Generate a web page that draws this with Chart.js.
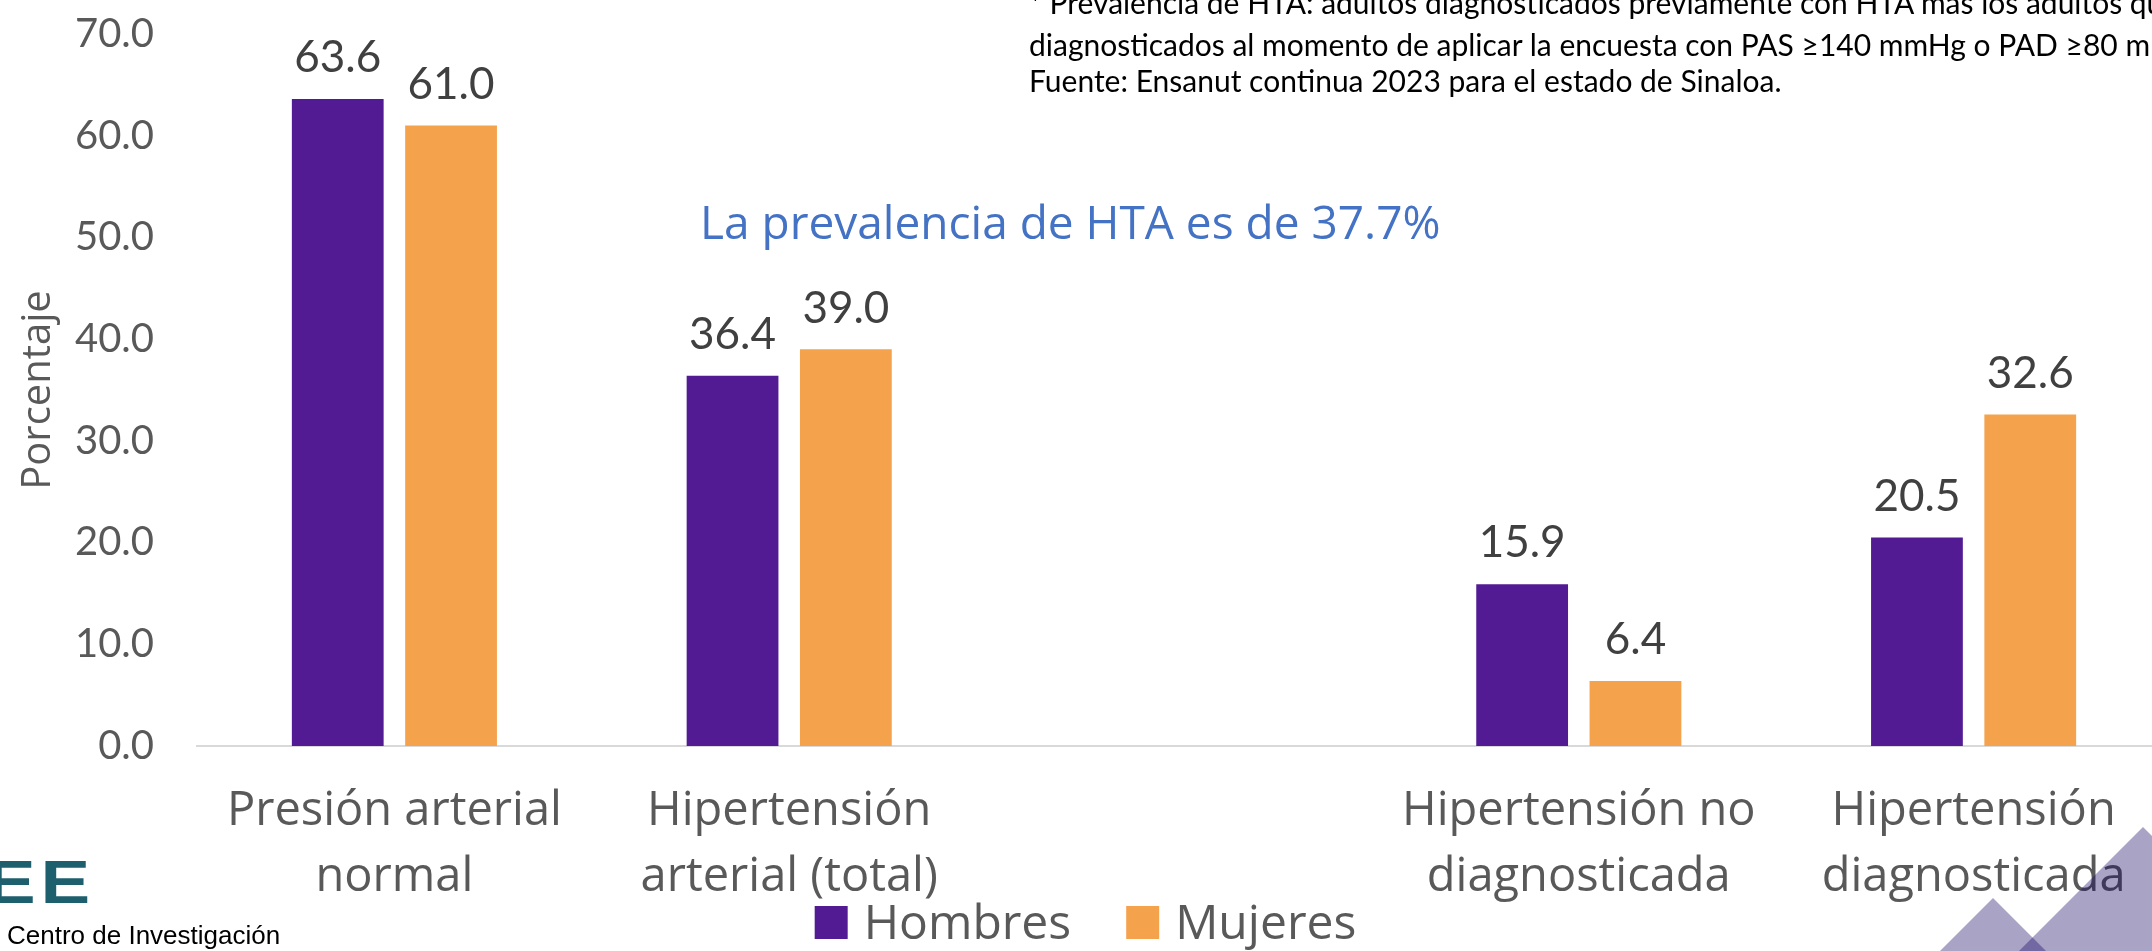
<!DOCTYPE html>
<html>
<head>
<meta charset="utf-8">
<script src="https://cdn.jsdelivr.net/npm/chart.js@4.4.1/dist/chart.umd.min.js"></script>
<style>
    html, body { margin: 0; padding: 0; background: #fff; }
    #wrap { position: relative; width: 2152px; height: 951px; overflow: hidden; background: #fff; }
    #chart { position: absolute; left: 0; top: 0; }
    .note { position: absolute; left: 1029px; font-family: Lato, sans-serif; font-size: 30px; line-height: 36px; color: #000; white-space: nowrap; }
    .prev { position: absolute; left: 700px; top: 190px; font-family: "Open Sans", sans-serif; font-size: 46px; color: #4472C4; white-space: nowrap; }
    .logo { position: absolute; left: -14px; top: 846px; font-family: "Liberation Sans", Arial, sans-serif; font-weight: bold; font-size: 62px; color: #1E5F6E; letter-spacing: 4px; transform: scaleX(1.2); transform-origin: left top; }
    .centro { position: absolute; left: 7px; top: 920px; font-family: "Liberation Sans", Arial, sans-serif; font-size: 26px; color: #000; white-space: nowrap; }
    svg { position: absolute; left: 0; top: 0; pointer-events: none; }
</style>
</head>
<body>
<div id="wrap">
    <canvas id="chart" width="2171" height="951"></canvas>
    <div class="note" style="top: -16px;">* Prevalencia de HTA: adultos diagnosticados previamente con HTA más los adultos que</div>
    <div class="note" style="top: 26px;">diagnosticados al momento de aplicar la encuesta con PAS ≥140 mmHg o PAD ≥80 mmHg</div>
    <div class="note" style="top: 62px;">Fuente: Ensanut continua 2023 para el estado de Sinaloa.</div>
    <div class="prev">La prevalencia de HTA es de 37.7%</div>
    <div class="logo">EE</div>
    <div class="centro">Centro de Investigación</div>
    <svg width="2152" height="951">
        <polygon points="2143,827 2019,951 2267,951" fill="rgba(16,0,97,0.36)"/>
        <polygon points="1993,898 1940,951 2046,951" fill="rgba(16,0,97,0.36)"/>
    </svg>
</div>
<script>
const categories = [
    ["Presión arterial", "normal"],
    ["Hipertensión", "arterial (total)"],
    "",
    ["Hipertensión no", "diagnosticada"],
    ["Hipertensión", "diagnosticada"]
];
const hombres = [63.6, 36.4, null, 15.9, 20.5];
const mujeres = [61.0, 39.0, null, 6.4, 32.6];
const yMin = 0;
const yMax = 70;
const yStep = 10;

// value labels above each bar
const barLabels = {
    id: "barLabels",
    afterDatasetsDraw(chart) {
        const ctx = chart.ctx;
        ctx.save();
        ctx.font = "44px Lato";
        ctx.fillStyle = "#404040";
        ctx.textAlign = "center";
        ctx.textBaseline = "middle";
        chart.data.datasets.forEach((ds, i) => {
            chart.getDatasetMeta(i).data.forEach((bar, j) => {
                const v = ds.data[j];
                if (v === null) return;
                ctx.fillText(v.toFixed(1), bar.x, bar.y - 41);
            });
        });
        ctx.restore();
    }
};

// legend drawn under the axis labels, like the slide
const bottomLegend = {
    id: "bottomLegend",
    afterDraw(chart) {
        const ctx = chart.ctx;
        const box = 33, gap = 16, spacing = 55, baseline = 939;
        ctx.save();
        ctx.font = "48px 'Open Sans'";
        ctx.textBaseline = "alphabetic";
        ctx.textAlign = "left";
        const items = chart.data.datasets.map(ds => ({
            text: ds.label,
            color: ds.backgroundColor,
            w: ctx.measureText(ds.label).width
        }));
        let total = 0;
        items.forEach((it, i) => { total += box + gap + it.w + (i ? spacing : 0); });
        let x = chart.width / 2 - total / 2;
        items.forEach(it => {
            ctx.fillStyle = it.color;
            ctx.fillRect(x, baseline - box, box, box);
            ctx.fillStyle = "#595959";
            ctx.fillText(it.text, x + box + gap, baseline);
            x += box + gap + it.w + spacing;
        });
        ctx.restore();
    }
};

const ctx = document.getElementById("chart").getContext("2d");

const chart = new Chart(ctx, {
    type: "bar",
    data: {
        labels: categories,
        datasets: [{
            label: "Hombres",
            data: hombres,
            backgroundColor: "#531B93",
            categoryPercentage: 0.574,
            barPercentage: 0.81
        }, {
            label: "Mujeres",
            data: mujeres,
            backgroundColor: "#F5A24D",
            categoryPercentage: 0.574,
            barPercentage: 0.81
        }]
    },
    options: {
        responsive: false,
        animation: false,
        layout: {
            padding: { top: 34, bottom: 0, left: 0, right: 0 }
        },
        plugins: {
            legend: { display: false },
            tooltip: { enabled: false }
        },
        scales: {
            x: {
                grid: { display: false, drawTicks: false },
                border: { display: true, color: "#D9D9D9", width: 2 },
                ticks: {
                    font: { family: "Open Sans", size: 47, lineHeight: 1.4 },
                    color: "#595959",
                    padding: 33,
                    maxRotation: 0,
                    autoSkip: false
                },
                afterFit(scale) { scale.height = 205; }
            },
            y: {
                min: yMin,
                max: yMax,
                grid: { display: false, drawTicks: true, tickLength: 43 },
                border: { display: false },
                ticks: {
                    stepSize: yStep,
                    font: { family: "Lato", size: 40 },
                    color: "#595959",
                    padding: 0,
                    callback: (v) => v.toFixed(1)
                },
                title: {
                    display: true,
                    text: "Porcentaje",
                    font: { family: "Open Sans", size: 40 },
                    color: "#595959",
                    padding: 15
                },
                afterFit(scale) { scale.width = 197; }
            }
        }
    },
    plugins: [barLabels, bottomLegend]
});
</script>
</body>
</html>
